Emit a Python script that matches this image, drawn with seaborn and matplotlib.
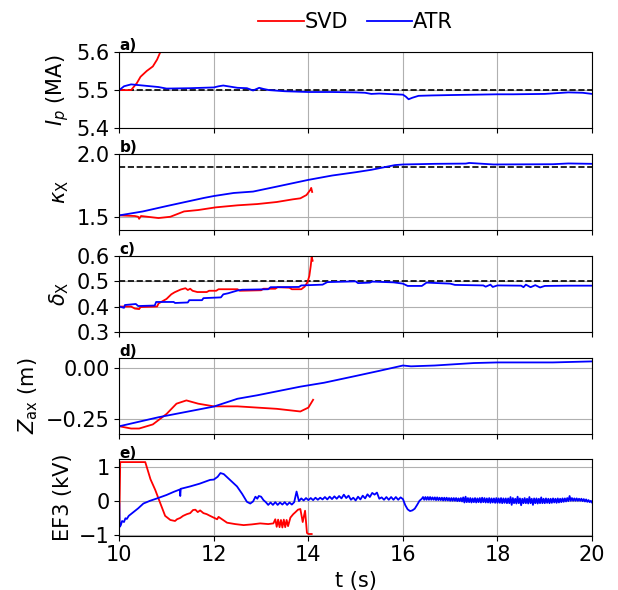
import numpy as np
import pandas as pd
import matplotlib
matplotlib.use("Agg")
import matplotlib.pyplot as plt
import seaborn as sns

# ---------------- data ----------------
# a) plasma current Ip (MA)
t_ip_atr = [10.0, 10.1, 10.25, 10.5, 10.83, 11.0, 11.5, 12.0, 12.1, 12.2, 12.35, 12.5, 12.7, 12.83,
            12.96, 13.05, 13.17, 13.5, 13.75, 14.0, 14.5, 15.0, 15.2, 15.33, 15.5, 15.83, 16.0, 16.06,
            16.12, 16.2, 16.33, 16.6, 17.0, 17.5, 18.0, 18.33, 19.0, 19.5, 19.8, 20.0]
ip_atr = [5.500, 5.510, 5.515, 5.512, 5.508, 5.504, 5.505, 5.507, 5.510, 5.512, 5.509, 5.506, 5.505,
          5.499, 5.506, 5.503, 5.500, 5.497, 5.496, 5.495, 5.495, 5.494, 5.493, 5.490, 5.491, 5.489,
          5.488, 5.483, 5.476, 5.480, 5.485, 5.486, 5.487, 5.488, 5.489, 5.489, 5.490, 5.494, 5.493, 5.490]
t_ip_svd = [10.0, 10.25, 10.37, 10.45, 10.58, 10.71, 10.8, 10.87, 10.95, 11.1]
ip_svd = [5.500, 5.500, 5.518, 5.535, 5.550, 5.562, 5.580, 5.600, 5.630, 5.680]
ip_ref = 5.5

# b) elongation kappa_X
t_k_atr = [10.0, 10.5, 11.0, 11.79, 12.0, 12.42, 12.83, 13.33, 14.0, 14.5, 15.0, 15.33, 15.83, 16.0,
           16.67, 17.33, 17.4, 17.92, 19.17, 19.5, 20.0]
k_atr = [1.516, 1.547, 1.589, 1.653, 1.668, 1.692, 1.703, 1.742, 1.795, 1.829, 1.855, 1.874, 1.911,
         1.916, 1.921, 1.923, 1.928, 1.916, 1.918, 1.924, 1.921]
t_k_svd = [10.0, 10.33, 10.40, 10.42, 10.46, 10.83, 11.08, 11.37, 11.67, 12.04, 12.5, 12.92, 13.33,
           13.67, 13.83, 13.96, 14.04, 14.06, 14.08]
k_svd = [1.516, 1.511, 1.505, 1.489, 1.511, 1.495, 1.505, 1.547, 1.558, 1.579, 1.595, 1.605, 1.621,
         1.642, 1.650, 1.676, 1.716, 1.732, 1.700]
k_ref = 1.9

# c) triangularity delta_X
t_d_atr = [10.0, 10.10, 10.12, 10.35, 10.40, 10.75, 10.78, 11.15, 11.18, 11.45, 11.48, 11.75, 11.78,
           12.15, 12.20, 12.30, 12.50, 12.60, 13.15, 13.20, 13.80, 13.85, 14.30, 14.40, 15.00, 15.05,
           15.30, 15.35, 15.80, 16.00, 16.10, 16.40, 16.50, 17.00, 17.10, 17.70, 17.75, 17.85, 17.90,
           18.00, 18.50, 18.55, 18.60, 18.70, 18.80, 18.90, 19.00, 19.50, 20.0]
d_atr = [0.400, 0.395, 0.406, 0.410, 0.402, 0.404, 0.418, 0.418, 0.414, 0.416, 0.425, 0.425, 0.433,
         0.436, 0.448, 0.452, 0.463, 0.466, 0.468, 0.476, 0.477, 0.483, 0.486, 0.496, 0.499, 0.492,
         0.494, 0.498, 0.495, 0.490, 0.481, 0.481, 0.494, 0.490, 0.485, 0.483, 0.478, 0.486, 0.477,
         0.483, 0.482, 0.476, 0.486, 0.476, 0.484, 0.475, 0.481, 0.482, 0.482]
t_d_svd = [10.0, 10.25, 10.33, 10.42, 10.45, 10.80, 10.83, 11.0, 11.10, 11.17, 11.30, 11.40, 11.45,
           11.50, 11.55, 11.65, 11.85, 11.90, 12.05, 12.10, 12.50, 12.55, 13.00, 13.05, 13.30, 13.35,
           13.60, 13.65, 13.85, 13.92, 13.98, 14.02, 14.05, 14.07, 14.09]
d_svd = [0.400, 0.400, 0.392, 0.390, 0.398, 0.400, 0.412, 0.430, 0.448, 0.456, 0.467, 0.472, 0.465,
         0.470, 0.462, 0.457, 0.457, 0.462, 0.462, 0.468, 0.468, 0.462, 0.464, 0.470, 0.470, 0.476,
         0.474, 0.468, 0.468, 0.478, 0.495, 0.520, 0.560, 0.595, 0.580]
d_ref = 0.5

# d) axis vertical position Z_ax (m)
t_z_atr = [10.0, 10.83, 12.0, 12.5, 12.92, 13.83, 14.33, 15.0, 15.5, 16.0, 16.17, 16.67, 17.5, 18.0,
           19.17, 20.0]
z_atr = [-0.283, -0.239, -0.187, -0.149, -0.132, -0.090, -0.071, -0.038, -0.013, 0.013, 0.009, 0.013,
         0.025, 0.028, 0.028, 0.033]
t_z_svd = [10.0, 10.25, 10.42, 10.71, 11.0, 11.21, 11.42, 11.67, 12.0, 12.5, 13.33, 13.83, 14.0, 14.1]
z_svd = [-0.283, -0.294, -0.294, -0.274, -0.223, -0.173, -0.157, -0.173, -0.186, -0.186, -0.198,
         -0.211, -0.192, -0.154]

# e) EF3 coil voltage (kV)
t_e_atr_head = [10.00, 10.01, 10.03, 10.06, 10.10, 10.13, 10.16, 10.20, 10.30, 10.40, 10.51, 10.65,
                10.80, 11.00, 11.15, 11.28, 11.29, 11.30, 11.50, 11.70, 11.92, 12.00, 12.08, 12.14,
                12.21, 12.35, 12.49, 12.60, 12.70, 12.77, 12.83, 12.88, 12.92, 12.95]
e_atr_head = [-0.08, -0.76, -0.72, -0.59, -0.62, -0.51, -0.53, -0.44, -0.33, -0.22, -0.08, 0.00,
              0.07, 0.17, 0.26, 0.33, 0.14, 0.35, 0.42, 0.50, 0.61, 0.62, 0.70, 0.81, 0.78, 0.60,
              0.42, 0.20, -0.03, -0.08, -0.02, 0.12, 0.06, 0.14]
# sampled every 0.05 s from 13.00 s to 16.35 s
t_e_atr_mid = np.round(np.linspace(13.0, 16.35, 68), 3)
e_atr_mid = [
    0.12, 0.02, -0.04, -0.12, -0.05, -0.12, -0.04, -0.12, -0.05, -0.11,
    -0.04, -0.12, -0.05, -0.11, -0.04, 0.27, -0.01, 0.07, 0.01, 0.08,
    0.02, 0.08, 0.02, 0.09, 0.03, 0.09, 0.04, 0.11, 0.04, 0.12,
    0.05, 0.13, 0.06, 0.14, 0.07, 0.18, 0.08, 0.15, 0.03, 0.09,
    0.01, 0.12, 0.04, 0.15, 0.07, 0.19, 0.11, 0.23, 0.18, 0.24,
    0.06, 0.10, 0.03, 0.11, 0.03, 0.11, 0.03, 0.11, 0.03, 0.10,
    0.05, -0.13, -0.25, -0.30, -0.28, -0.23, -0.12, 0.00]
# sampled every 0.025 s from 16.40 s to 20.00 s
t_e_atr_tail = np.round(np.linspace(16.4, 20.0, 145), 3)
e_atr_tail = [
    0.06, 0.11, 0.03, 0.11, 0.03, 0.11, 0.03, 0.11,
    0.03, 0.10, 0.03, 0.10, 0.02, 0.10, 0.02, 0.09,
    0.02, 0.09, 0.01, 0.09, 0.01, 0.09, 0.01, 0.08,
    0.00, 0.08, 0.00, 0.08, 0.00, 0.08, -0.01, 0.07,
    -0.01, 0.08, -0.02, 0.10, -0.05, 0.12, -0.04, 0.08,
    -0.04, 0.08, -0.05, 0.07, -0.04, 0.08, -0.05, 0.07,
    -0.04, 0.08, -0.05, 0.09, -0.04, 0.08, -0.05, 0.07,
    -0.05, 0.08, -0.06, 0.07, -0.05, 0.07, -0.06, 0.08,
    -0.06, 0.07, -0.06, 0.08, -0.07, 0.07, -0.06, 0.07,
    -0.07, 0.07, -0.07, 0.11, -0.12, 0.08, -0.07, 0.06,
    -0.08, 0.12, -0.07, 0.07, -0.13, 0.06, -0.07, 0.08,
    -0.07, 0.06, -0.08, 0.11, -0.07, 0.06, -0.12, 0.07,
    -0.07, 0.07, -0.08, 0.06, -0.07, 0.10, -0.07, 0.06,
    -0.07, 0.07, -0.06, 0.06, -0.07, 0.06, -0.06, 0.07,
    -0.05, 0.06, -0.06, 0.07, -0.05, 0.06, -0.04, 0.07,
    -0.03, 0.07, -0.02, 0.08, -0.01, 0.14, 0.00, 0.08,
    0.00, 0.07, 0.00, 0.07, 0.00, 0.06, 0.00, 0.06,
    -0.01, 0.05, -0.02, 0.04, -0.03, 0.02, -0.04, 0.00,
    -0.05]
t_e_svd = [10.00, 10.02, 10.03, 10.55, 10.66, 10.76, 10.87, 10.97, 11.08, 11.18, 11.22, 11.29, 11.35,
           11.43, 11.50, 11.56, 11.61, 11.66, 11.71, 11.78, 11.85, 11.92, 12.07, 12.10, 12.28, 12.45,
           12.63, 12.80, 12.98, 13.15, 13.26, 13.30, 13.33, 13.36, 13.39, 13.42, 13.45, 13.48, 13.51,
           13.54, 13.57, 13.62, 13.68, 13.72, 13.78, 13.83, 13.88, 13.93, 13.97, 14.00, 14.07]
e_svd = [-0.60, 1.13, 1.13, 1.13, 0.63, 0.32, -0.08, -0.44, -0.56, -0.59, -0.54, -0.50, -0.44, -0.39,
         -0.36, -0.27, -0.26, -0.33, -0.28, -0.36, -0.39, -0.44, -0.54, -0.47, -0.64, -0.68, -0.71,
         -0.69, -0.66, -0.68, -0.66, -0.54, -0.76, -0.55, -0.77, -0.56, -0.78, -0.55, -0.77, -0.56,
         -0.74, -0.49, -0.39, -0.34, -0.26, -0.24, -0.62, -0.29, -0.94, -0.97, -0.97]

methods = ["SVD", "ATR"]
colors = {"SVD": "red", "ATR": "blue"}
ylabels = [r"$I_p$ (MA)", r"$\kappa_\mathrm{X}$", r"$\delta_\mathrm{X}$", r"$Z_\mathrm{ax}$ (m)", "EF3 (kV)"]
panel_tags = ["a)", "b)", "c)", "d)", "e)"]
xticks = [10, 12, 14, 16, 18, 20]


def frame(ts, vs, tv, vv):
    return pd.concat([
        pd.DataFrame({"t": ts, "v": vs, "method": "SVD"}),
        pd.DataFrame({"t": tv, "v": vv, "method": "ATR"}),
    ], ignore_index=True)


t_e_atr = list(t_e_atr_head) + list(t_e_atr_mid) + list(t_e_atr_tail)
e_atr = e_atr_head + e_atr_mid + e_atr_tail

panels = [
    (frame(t_ip_svd, ip_svd, t_ip_atr, ip_atr), ip_ref, (5.4, 5.6), [5.4, 5.5, 5.6]),
    (frame(t_k_svd, k_svd, t_k_atr, k_atr), k_ref, (1.4, 2.0), [1.5, 2.0]),
    (frame(t_d_svd, d_svd, t_d_atr, d_atr), d_ref, (0.3, 0.6), [0.3, 0.4, 0.5, 0.6]),
    (frame(t_z_svd, z_svd, t_z_atr, z_atr), None, (-0.32, 0.052), [-0.25, 0.0]),
    (frame(t_e_svd, e_svd, t_e_atr, e_atr), None, (-1.02, 1.21), [-1, 0, 1]),
]

# ---------------- figure ----------------
fig, axes = plt.subplots(5, 1, figsize=(6.18, 5.90), dpi=100, sharex=True)
fig.subplots_adjust(left=0.193, right=0.958, top=0.912, bottom=0.092, hspace=0.334)

for i, (ax, (df, ref, ylim, yt)) in enumerate(zip(axes, panels)):
    ax.grid(True, color="#b0b0b0", lw=0.8, zorder=0)
    ax.set_axisbelow(True)
    if ref is not None:
        ax.axhline(ref, color="black", ls="--", lw=1.2, zorder=1)
    sns.lineplot(data=df, x="t", y="v", hue="method", hue_order=methods, palette=colors,
                 estimator=None, sort=False, legend=False, lw=1.3, ax=ax, zorder=2)
    ax.set_ylim(*ylim)
    ax.set_yticks(yt)
    ax.set_xlim(10, 20)
    ax.set_xticks(xticks)
    ax.set_ylabel(ylabels[i], fontsize=15)
    ax.set_xlabel("")
    ax.tick_params(labelsize=15)
    ax.text(0.0, 0.985, panel_tags[i], transform=ax.transAxes, ha="left", va="bottom",
            fontsize=11, fontweight="bold")

axes[-1].set_xlabel("t (s)", fontsize=15)

handles = [plt.Line2D([], [], color=colors[m], lw=1.3) for m in methods]
fig.legend(handles, methods, loc="center", bbox_to_anchor=(0.575, 0.963), ncol=2, frameon=False,
           fontsize=15, handlelength=2.2, handletextpad=0.0, columnspacing=0.9)

fig.savefig("out.png", dpi=100)
